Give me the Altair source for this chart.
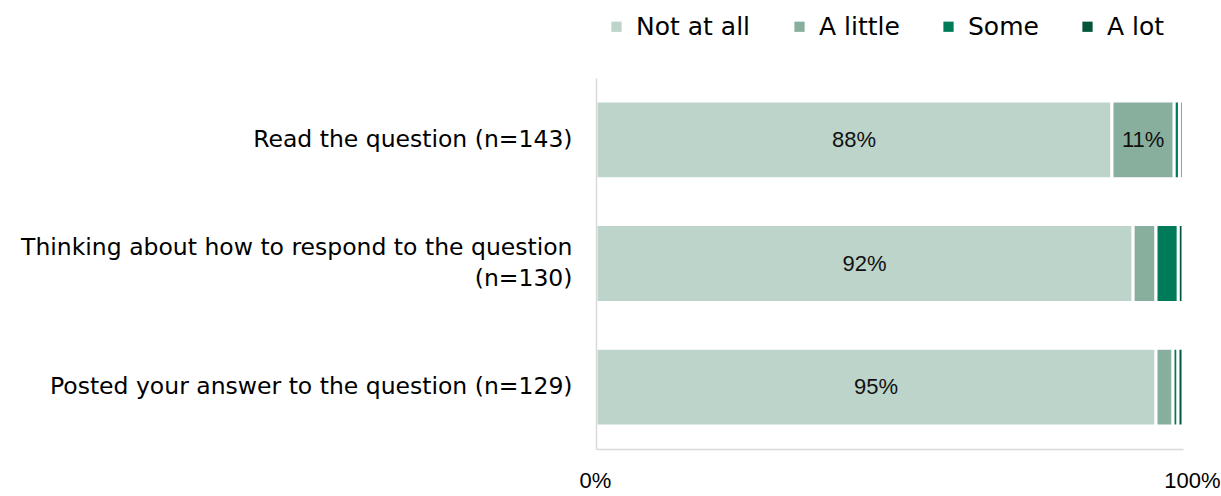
import altair as alt
import pandas as pd

questions = [
    "Read the question (n=143)",
    "Thinking about how to respond to the question (n=130)",
    "Posted your answer to the question (n=129)",
]
categories = ["Not at all", "A little", "Some", "A lot"]
not_at_all = [87.9, 91.5, 95.4]
a_little = [10.6, 3.9, 2.9]
some = [0.9, 3.8, 0.85]
a_lot = [0.6, 0.8, 0.85]
colors = ["#bdd4ca", "#88ae9d", "#007b59", "#00553a"]

series = [not_at_all, a_little, some, a_lot]
rows = []
for qi, q in enumerate(questions):
    for ci, c in enumerate(categories):
        rows.append({"question": q, "category": c, "order": ci, "value": series[ci][qi]})
df = pd.DataFrame(rows)

base = alt.Chart(df).transform_window(
    cum="sum(value)", groupby=["question"], sort=[alt.SortField("order")], frame=[None, 0]
).transform_calculate(
    start="datum.cum - datum.value",
    mid="datum.cum - datum.value / 2",
    label="datum.value >= 10 ? format(round(datum.value), 'd') + '%' : ''",
)

y_enc = alt.Y(
    "question:N",
    sort=questions,
    title=None,
    scale=alt.Scale(paddingInner=0.37, paddingOuter=0.185),
    axis=alt.Axis(
        labelExpr="length(datum.value) > 45 ? [slice(datum.value, 0, indexof(datum.value, ' (n=')), slice(datum.value, indexof(datum.value, ' (n=') + 1)] : datum.value",
        labelFont="DejaVu Sans",
        labelFontSize=23.5,
        labelColor="#000000",
        labelLimit=620,
        labelPadding=24,
        labelLineHeight=31,
        labelOffset={"condition": {"test": "length(datum.value) > 45", "value": -16}, "value": 0},
        ticks=False,
        domainColor="#d9d9d9",
        domainWidth=1.5,
        grid=False,
        zindex=1,
    ),
)

bars = base.mark_bar(stroke="white", strokeWidth=3).encode(
    x=alt.X(
        "start:Q",
        scale=alt.Scale(domain=[0, 100], nice=False),
        title=None,
        axis=alt.Axis(
            values=[0, 100],
            labelExpr="datum.value + '%'",
            labelFont="Liberation Sans",
            labelFontSize=22,
            labelColor="#000000",
            labelPadding=21,
            labelFlush=False,
            labelOffset={"condition": {"test": "datum.value == 100", "value": 9}, "value": -1},
            ticks=False,
            grid=False,
            domainColor="#d9d9d9",
            domainWidth=1.5,
            zindex=1,
        ),
    ),
    x2="cum:Q",
    y=y_enc,
    color=alt.Color(
        "category:N",
        scale=alt.Scale(domain=categories, range=colors),
        sort=categories,
        legend=alt.Legend(
            title=None,
            orient="none",
            legendX=8,
            legendY=-64,
            direction="horizontal",
            symbolType="square",
            symbolSize=105,
            symbolStrokeWidth=0,
            labelFont="DejaVu Sans",
            labelFontSize=25,
            labelColor="#000000",
            labelOffset=7,
            columnPadding=36,
        ),
    ),
    order=alt.Order("order:Q"),
)

text = base.transform_filter("datum.label != ''").mark_text(
    font="Liberation Sans", fontSize=22, color="#111111", baseline="middle"
).encode(
    x=alt.X("mid:Q"),
    y=alt.Y("question:N", sort=questions),
    text="label:N",
)

chart = alt.layer(bars, text).properties(
    width=587,
    height=371,
    background="white",
    autosize=alt.AutoSizeParams(type="none"),
    padding={"left": 596, "top": 78, "right": 38, "bottom": 47},
).configure_view(stroke=None)

chart.save("out.html", embed_options={"renderer": "svg", "actions": False})
